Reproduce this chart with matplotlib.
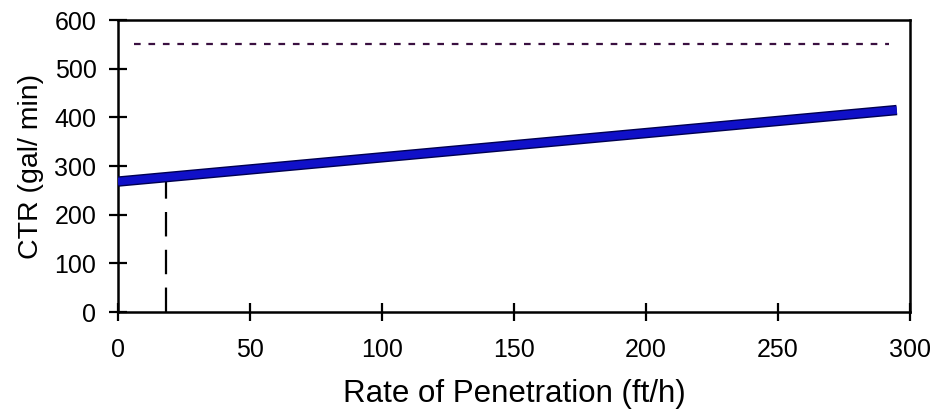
import matplotlib.pyplot as plt
import matplotlib.patheffects as pe

plt.rcParams['font.family'] = ['Liberation Sans', 'DejaVu Sans']

# data
rop = [0, 295]
ctr = [268, 415]
limit_x = [6, 292]
limit_y = [550, 550]
mark_x = [18, 18]
mark_y = [0, 275]

fig = plt.figure(figsize=(9.34, 4.18), dpi=100)
ax = fig.add_axes([118 / 934, 1 - 312 / 418, 792 / 934, 292 / 418])

# CTR line
ax.plot(rop, ctr, color='#1010c8', linewidth=5.5,
        path_effects=[pe.Stroke(linewidth=7.5, foreground='#000050'), pe.Normal()],
        solid_capstyle='butt', zorder=3)
# upper limit
ax.plot(limit_x, limit_y, color='#3a1040', linewidth=1.6, dashes=(3, 3.5))
# vertical marker
ax.plot(mark_x, mark_y, color='black', linewidth=1.6, dashes=(11, 6))

ax.set_xlim(0, 300)
ax.set_ylim(0, 600)
ax.set_xticks(range(0, 301, 50))
ax.set_yticks(range(0, 601, 100))
ax.tick_params(direction='inout', length=13, width=1.6, labelsize=18)
ax.tick_params(axis='x', pad=12)
ax.tick_params(axis='y', pad=9)
for s in ax.spines.values():
    s.set_linewidth(1.8)

ax.set_xlabel('Rate of Penetration (ft/h)', fontsize=22.5)
ax.set_ylabel('CTR (gal/ min)', fontsize=20.5)
ax.xaxis.set_label_coords(0.5, -0.23)
ax.yaxis.set_label_coords(-0.094, 0.5)

plt.savefig('out.png', dpi=100)
